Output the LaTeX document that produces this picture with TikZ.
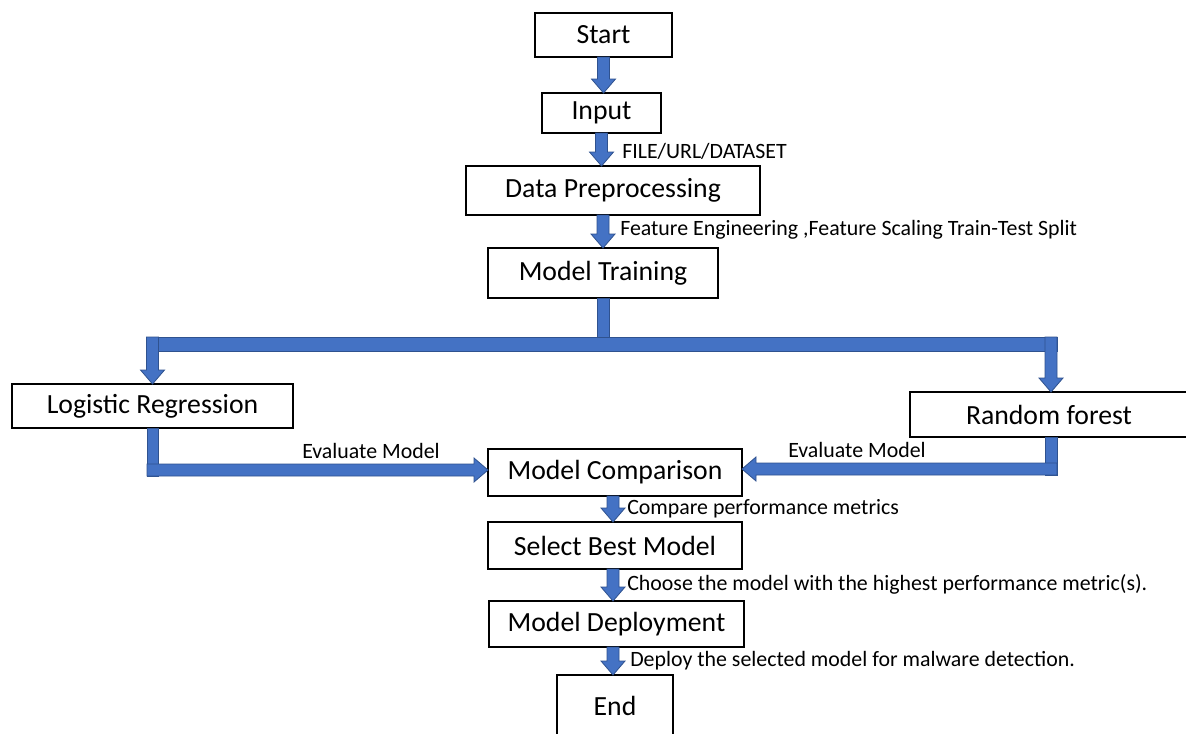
\documentclass[tikz,border=0pt]{standalone}
\usepackage{fontspec}
\setmainfont{Carlito}
\usetikzlibrary{calc}
\definecolor{arrowblue}{HTML}{4472C4}
\definecolor{arrowedge}{HTML}{2F528F}
\tikzset{
  box/.style={draw=black, line width=1pt, fill=white, inner sep=0pt, outer sep=0pt, font=\fontsize{20.8}{24}\selectfont},
  lbl/.style={anchor=west, inner sep=0pt, font=\fontsize{16.4}{19}\selectfont},
  blk/.style={fill=arrowblue, draw=arrowedge, line width=0.6pt, line join=miter}
}
% down arrow: x and top from #1, tip y from #2
\newcommand{\dnarr}[2]{\draw[blk] let \p1=#1, \p2=#2 in
  (\x1-4.5pt,\y1) -- (\x1+4.5pt,\y1) -- (\x1+4.5pt,\y2+10.5pt) -- (\x1+9pt,\y2+10.5pt)
  -- (\x1,\y2) -- (\x1-9pt,\y2+10.5pt) -- (\x1-4.5pt,\y2+10.5pt) -- cycle;}
% right arrow: start and y from #1, tip x from #2
\newcommand{\rtarr}[2]{\draw[blk] let \p1=#1, \p2=#2 in
  (\x1,\y1+4.5pt) -- (\x2-10.5pt,\y1+4.5pt) -- (\x2-10.5pt,\y1+9pt) -- (\x2,\y1)
  -- (\x2-10.5pt,\y1-9pt) -- (\x2-10.5pt,\y1-4.5pt) -- (\x1,\y1-4.5pt) -- cycle;}
% left arrow: start and y from #1, tip x from #2
\newcommand{\ltarr}[2]{\draw[blk] let \p1=#1, \p2=#2 in
  (\x1,\y1+4.5pt) -- (\x2+10.5pt,\y1+4.5pt) -- (\x2+10.5pt,\y1+9pt) -- (\x2,\y1)
  -- (\x2+10.5pt,\y1-9pt) -- (\x2+10.5pt,\y1-4.5pt) -- (\x1,\y1-4.5pt) -- cycle;}
\begin{document}
\begin{tikzpicture}[x=0.75pt,y=-0.75pt]
\useasboundingbox (0,0) rectangle (1186,733);
\fill[white] (0,0) rectangle (1186,733);

% nodes
\node[box, minimum width=102.75pt, minimum height=33pt] (start) at (603.5,35) {\raisebox{-1.2pt}{Start}};
\node[box, minimum width=89.25pt, minimum height=30pt] (input) at (601.5,113) {\raisebox{-1.2pt}{Input}};
\node[box, minimum width=220.5pt, minimum height=36.75pt] (prep) at (613,190.5) {\raisebox{-1.2pt}{Data Preprocessing}};
\node[box, minimum width=172.5pt, minimum height=37.5pt] (train) at (603,273) {\raisebox{-1.2pt}{Model Training}};
\node[box, minimum width=210.75pt, minimum height=33pt] (lr) at (152.5,406) {\raisebox{-1.2pt}{Logistic Regression}};
\node[box, minimum width=208.5pt, minimum height=33.75pt] (rf) at (1049,414.5) {\raisebox{-1.2pt}{Random forest}};
\node[box, minimum width=190.5pt, minimum height=35.25pt] (cmp) at (615,472.5) {\raisebox{-1.2pt}{Model Comparison}};
\node[box, minimum width=190.5pt, minimum height=35.25pt] (sel) at (615,545.5) {\raisebox{-1.2pt}{Select Best Model}};
\node[box, minimum width=191.25pt, minimum height=34.5pt] (dep) at (616.5,624) {\raisebox{-1.2pt}{Model Deployment}};
\node[box, minimum width=87pt, minimum height=46.5pt] (end) at (615,706) {End};

% straight arrows
\dnarr{(start.south)}{(input.north)}
\dnarr{(input.south)}{(prep.north)}
\dnarr{(train.north |- prep.south)}{(train.north)}
\dnarr{($(cmp.south)+(-2,0)$)}{(sel.north)}
\dnarr{($(sel.south)+(-2,0)$)}{(dep.north)}
\dnarr{($(dep.south)+(-3.5,0)$)}{(end.north)}

% fork
\coordinate (forkC) at (603,351);
\coordinate (forkL) at (152.5,337);
\coordinate (forkR) at (1051,337);
\draw[blk] ($(train.south)+(-6,0)$) rectangle ($(forkC)+(6,0)$);
\draw[blk] (147,337) rectangle (1057,351);
\dnarr{(forkL)}{(lr.north)}
\dnarr{(forkR)}{(rf.north)}

% evaluate branches
\coordinate (lrcorner) at (147,470);
\coordinate (rfcorner) at (1057,469);
\draw[blk] ($(lr.south)+(-5.5,0)$) rectangle (158,476);
\rtarr{(lrcorner)}{(cmp.west)}
\draw[blk] (1045,437) rectangle (1057,475);
\ltarr{(rfcorner)}{(cmp.east)}

% labels
\node[lbl] (l1) at (622,151) {FILE/URL/DATASET};
\node[lbl] (l2) at (620,230) {Feature Engineering ,Feature Scaling Train-Test Split};
\node[lbl] (l3) at (302,451) {Evaluate Model};
\node[lbl] (l4) at (788,450) {Evaluate Model};
\node[lbl] (l5) at (627,509) {Compare performance metrics};
\node[lbl] (l6) at (627,584) {Choose the model with the highest performance metric(s).};
\node[lbl] (l7) at (630,661) {Deploy the selected model for malware detection.};
\end{tikzpicture}
\end{document}
